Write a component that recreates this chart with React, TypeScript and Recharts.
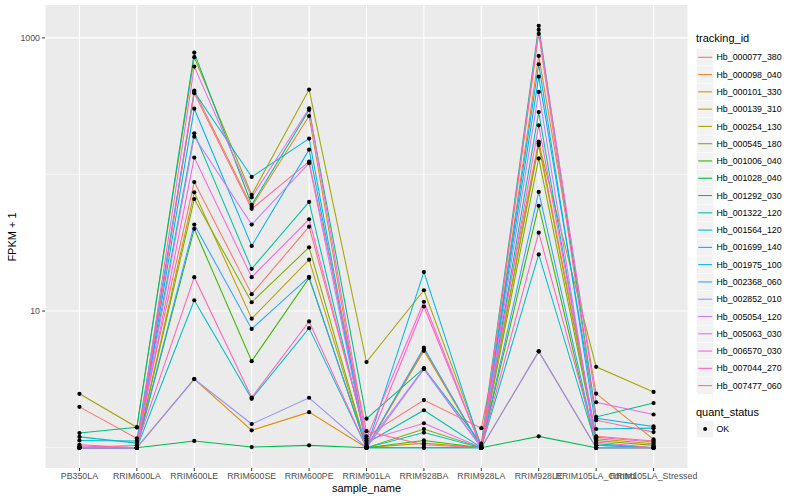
import React from 'react';
import { LineChart, Line, XAxis, YAxis, CartesianGrid } from 'recharts';

// x categories
const samples = [
  'PB350LA',
  'RRIM600LA',
  'RRIM600LE',
  'RRIM600SE',
  'RRIM600PE',
  'RRIM901LA',
  'RRIM928BA',
  'RRIM928LA',
  'RRIM928LE',
  'RRIM105LA_Control',
  'RRIM105LA_Stressed',
];

const trackingIds = [
  'Hb_000077_380',
  'Hb_000098_040',
  'Hb_000101_330',
  'Hb_000139_310',
  'Hb_000254_130',
  'Hb_000545_180',
  'Hb_001006_040',
  'Hb_001028_040',
  'Hb_001292_030',
  'Hb_001322_120',
  'Hb_001564_120',
  'Hb_001699_140',
  'Hb_001975_100',
  'Hb_002368_060',
  'Hb_002852_010',
  'Hb_005054_120',
  'Hb_005063_030',
  'Hb_006570_030',
  'Hb_007044_270',
  'Hb_007477_060',
];

// ggplot default hue palette, 20 levels
const colors = [
  '#F8766D', '#EA8331', '#D89000', '#C09B00', '#A3A500',
  '#7CAE00', '#39B600', '#00BB4E', '#00BF7D', '#00C1A3',
  '#00BFC4', '#00BAE0', '#00B0F6', '#35A2FF', '#9590FF',
  '#C77CFF', '#E76BF3', '#FA62DB', '#FF62BC', '#FF6C91',
];

// FPKM + 1 per sample, same order as samples
const hb000077_380 = [1.99, 1.17, 88, 13.3, 41.5, 1.21, 2.23, 1.39, 174, 1.21, 1.12];
const hb000098_040 = [1.0, 1.0, 411, 58, 268, 1.0, 5.27, 1.0, 738, 2.49, 1.15];
const hb000101_330 = [1.0, 1.0, 3.18, 1.34, 1.82, 1.0, 5.12, 1.0, 5.07, 1.0, 1.0];
const hb000139_310 = [1.0, 1.0, 74, 8.8, 23.8, 1.0, 1.08, 1.0, 164, 1.16, 1.07];
const hb000254_130 = [2.48, 1.41, 722, 71, 418, 4.23, 14.2, 1.04, 169, 3.91, 2.56];
const hb000545_180 = [1.0, 1.0, 66, 11.6, 29.3, 1.0, 1.37, 1.0, 131, 1.13, 1.04];
const hb001006_040 = [1.0, 1.0, 40, 4.3, 17.5, 1.0, 1.13, 1.0, 59, 1.0, 1.0];
const hb001028_040 = [1.0, 1.0, 1.12, 1.01, 1.04, 1.0, 1.0, 1.0, 1.21, 1.0, 1.0];
const hb001292_030 = [1.28, 1.41, 780, 60, 297, 1.63, 3.82, 1.07, 1224, 1.68, 2.12];
const hb001322_120 = [1.2, 1.08, 200, 20.4, 63, 1.08, 1.88, 1.0, 286, 1.07, 1.0];
const hb001564_120 = [1.0, 1.0, 12, 2.28, 7.5, 1.0, 1.29, 1.0, 26, 1.04, 1.0];
const hb001699_140 = [1.13, 1.12, 402, 96, 183, 1.0, 19.3, 1.0, 641, 1.37, 1.39];
const hb001975_100 = [1.0, 1.0, 303, 30, 152, 1.0, 1.0, 1.0, 520, 1.64, 1.43];
const hb002368_060 = [1.0, 1.0, 43, 7.4, 17.8, 1.0, 5.4, 1.0, 74.5, 1.04, 1.0];
const hb002852_010 = [1.0, 1.0, 3.18, 1.49, 2.32, 1.0, 3.76, 1.0, 5.07, 1.0, 1.0];
const hb005054_120 = [1.0, 1.0, 189, 43, 121, 1.04, 3.8, 1.0, 402, 1.0, 1.0];
const hb005063_030 = [1.0, 1.0, 616, 68, 305, 1.13, 1.51, 1.0, 1145, 2.15, 1.75];
const hb006570_030 = [1.03, 1.0, 133, 17.7, 47, 1.17, 11.7, 1.0, 229, 1.19, 1.1];
const hb007044_270 = [1.0, 1.04, 17.7, 2.33, 8.4, 1.0, 10.8, 1.0, 37.5, 1.1, 1.0];
const hb007477_060 = [1.05, 1.0, 393, 56, 124, 1.32, 1.05, 1.0, 1070, 1.59, 1.3];

const seriesValues = [
  hb000077_380, hb000098_040, hb000101_330, hb000139_310, hb000254_130,
  hb000545_180, hb001006_040, hb001028_040, hb001292_030, hb001322_120,
  hb001564_120, hb001699_140, hb001975_100, hb002368_060, hb002852_010,
  hb005054_120, hb005063_030, hb006570_030, hb007044_270, hb007477_060,
];

const yTicks = [10, 1000];
const yMinor = [1, 100];

const data = samples.map((s, i) => {
  const row: Record<string, string | number> = { sample_name: s };
  trackingIds.forEach((id, k) => {
    row[id] = seriesValues[k][i];
  });
  return row;
});

const FONT = '"Liberation Sans", Arial, Helvetica, sans-serif';
const ROW = 17.28;
const KEY_X = 696.5;

// legend drawn as a plain svg overlay on the right
const LegendBox = () => (
  <svg
    width={800}
    height={500}
    style={{ position: 'absolute', left: 0, top: 0, pointerEvents: 'none' }}
    fontFamily={FONT}
  >
    <text x={696} y={42} fontSize={11} fill="#000">tracking_id</text>
    {trackingIds.map((id, i) => {
      const cy = 57.3 + i * ROW;
      return (
        <g key={id}>
          <rect x={KEY_X} y={cy - ROW / 2} width={ROW} height={ROW} fill="#F2F2F2" stroke="#FFFFFF" strokeWidth={0.5} />
          <line x1={KEY_X + 1.7} x2={KEY_X + ROW - 1.7} y1={cy} y2={cy} stroke={colors[i]} strokeWidth={1.1} />
          <text x={716.5} y={cy + 3.1} fontSize={8.8} fill="#000">{id}</text>
        </g>
      );
    })}
    <text x={696} y={416} fontSize={11} fill="#000">quant_status</text>
    <rect x={KEY_X} y={429 - ROW / 2} width={ROW} height={ROW} fill="#F2F2F2" stroke="#FFFFFF" strokeWidth={0.5} />
    <circle cx={KEY_X + ROW / 2} cy={429} r={2} fill="#000" />
    <text x={716.5} y={432.1} fontSize={8.8} fill="#000">OK</text>
  </svg>
);

const App: React.FC = () => {
  return (
    <div style={{ position: 'fixed', left: 0, top: 0, width: 800, height: 500, background: '#FFFFFF', fontFamily: FONT }}>
      <LineChart
        width={800}
        height={500}
        data={data}
        margin={{ top: 5, right: 112, bottom: 0, left: 0 }}
      >
        <CartesianGrid
          fill="#EBEBEB"
          stroke="#FFFFFF"
          strokeWidth={0.55}
          vertical={false}
          horizontalValues={yMinor}
        />
        <CartesianGrid stroke="#FFFFFF" strokeWidth={1.1} horizontalValues={yTicks} />
        <XAxis
          dataKey="sample_name"
          type="category"
          scale="point"
          padding={{ left: 34.45, right: 34.45 }}
          interval={0}
          height={32}
          axisLine={false}
          tickLine={{ stroke: '#333333', strokeWidth: 1 }}
          tickSize={3}
          tickMargin={2}
          tick={{ fill: '#4D4D4D', fontSize: 8.8, fontFamily: FONT }}
        />
        <YAxis
          scale="log"
          type="number"
          domain={[0.71, 1740]}
          allowDataOverflow
          ticks={yTicks}
          width={45}
          axisLine={false}
          tickLine={{ stroke: '#333333', strokeWidth: 1 }}
          tickSize={3}
          tickMargin={2}
          tick={{ fill: '#4D4D4D', fontSize: 8.8, fontFamily: FONT }}
        />
        {trackingIds.map((id, k) => (
          <Line
            key={id}
            type="linear"
            dataKey={id}
            stroke={colors[k]}
            strokeWidth={1.05}
            dot={false}
            activeDot={false}
            isAnimationActive={false}
          />
        ))}
        {trackingIds.map((id) => (
          <Line
            key={id + '_pt'}
            type="linear"
            dataKey={id}
            stroke="transparent"
            strokeWidth={0}
            dot={{ r: 2.1, fill: '#000000', stroke: 'none' }}
            activeDot={false}
            legendType="none"
            isAnimationActive={false}
          />
        ))}
      </LineChart>
      <div
        style={{
          position: 'absolute',
          left: 12 - 40,
          top: 236.5 - 7,
          width: 80,
          height: 14,
          fontSize: 11,
          lineHeight: '14px',
          textAlign: 'center',
          transform: 'rotate(-90deg)',
          whiteSpace: 'nowrap',
        }}
      >
        FPKM + 1
      </div>
      <div
        style={{
          position: 'absolute',
          left: 366.5 - 60,
          top: 488 - 7,
          width: 120,
          fontSize: 11,
          lineHeight: '14px',
          textAlign: 'center',
          whiteSpace: 'nowrap',
        }}
      >
        sample_name
      </div>
      <LegendBox />
    </div>
  );
};

export default App;
